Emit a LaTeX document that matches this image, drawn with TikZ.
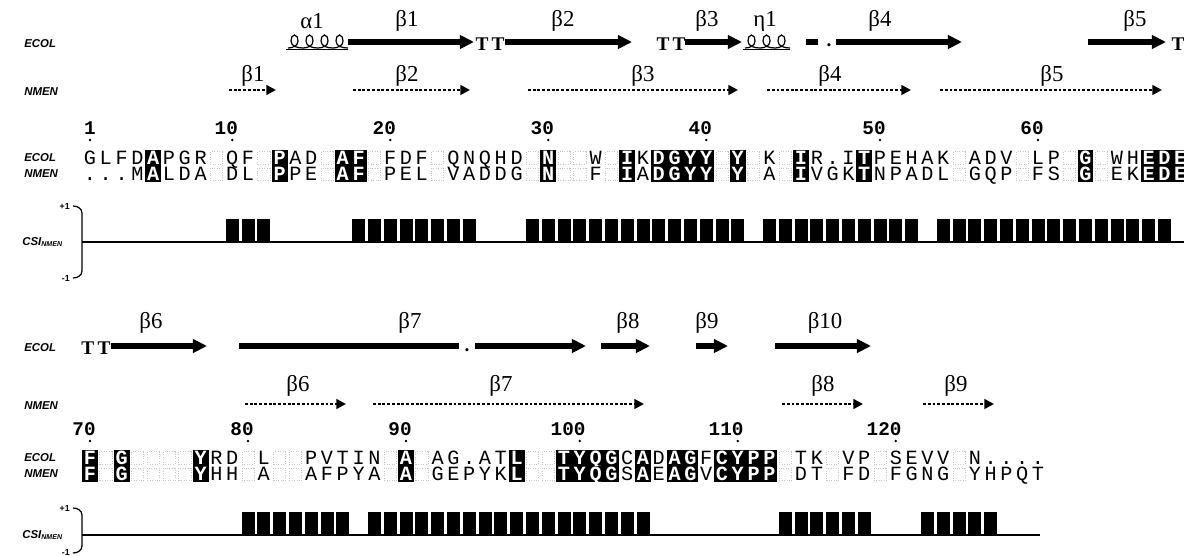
\documentclass[tikz,border=0pt]{standalone}
\usepackage{fontspec}
\setmainfont{Liberation Serif}
\setsansfont{Liberation Sans}
\setmonofont{Liberation Mono}
\usetikzlibrary{arrows.meta}

% helix: start x, baseline y, number of loops
\newcommand{\helixloops}[3]{%
  \foreach \k in {1,...,#3} {
    \pgfmathsetmacro{\hx}{#1+15*(\k-1)}
    \draw[line width=0.7pt] (\hx,#2) to[out=0,in=-90] ++(10,-7)
      to[out=90,in=0] ++(-3.5,-6) to[out=180,in=90] ++(-3.5,6)
      to[out=-90,in=180] ++(12,7);
  }
  \pgfmathsetmacro{\hend}{#1+15*#3}
  \draw[line width=0.5pt] (#1-2,#2+1) -- (\hend,#2+1);
}

\begin{document}
\begin{tikzpicture}[x=0.2mm, y=-0.2mm,
    res/.style={inner sep=0pt, minimum width=3.16mm, minimum height=3.2mm,
                text height=7pt, text depth=0pt,
                font=\ttfamily\fontsize{11.5}{12}\selectfont},
    resn/.style={res},
    resb/.style={res, fill=black, text=white,
                 font=\ttfamily\bfseries\fontsize{11.5}{12}\selectfont},
    resf/.style={res, text=white, minimum width=2.2mm, minimum height=2.5mm,
                 draw=black!22, densely dotted},
    num/.style={inner sep=0pt, font=\ttfamily\bfseries\fontsize{11}{12}\selectfont},
    seqname/.style={inner sep=0pt, anchor=west,
                    font=\sffamily\bfseries\itshape\fontsize{6.5}{7}\selectfont},
    sslab/.style={inner sep=0pt, font=\fontsize{13}{14}\selectfont},
    strand/.style={line width=2.9pt, -{Triangle[length=8pt, width=7.5pt]}},
    bar/.style={line width=2.9pt},
    dstrand/.style={line width=1.5pt, dash pattern=on 1.6pt off 1.1pt,
                    -{Triangle[length=5.5pt, width=5.5pt]}},
    turn/.style={inner sep=0pt, font=\bfseries\fontsize{11}{12}\selectfont},
    csilab/.style={inner sep=0pt, font=\sffamily\bfseries\fontsize{5}{6}\selectfont},
    csibar/.style={fill=black},
]
\useasboundingbox (0,0) rectangle (1184,555);

% ================= block 1 =================
% --- ECOL secondary structure ---
\node[seqname] (sse1) at (24,44) {ECOL};
\node[sslab] (a1) at (312,21) {α1};
\helixloops{288}{48}{4}
\node[sslab] (e1b1) at (407,21) {β1};
\draw[strand] (348,42) -- (474,42);
\node[turn] (tt1) at (490,44) {T\,T};
\node[sslab] (e1b2) at (563,21) {β2};
\draw[strand] (505,42) -- (632,42);
\node[turn] (tt2) at (671,44) {T\,T};
\node[sslab] (e1b3) at (707,21) {β3};
\draw[strand] (685,42) -- (742,42);
\node[sslab] (h1) at (765,21) {η1};
\helixloops{745}{48}{3}
\draw[bar] (806,42) -- (818,42);
\node[turn] (dot1) at (829,45) {.};
\node[sslab] (e1b4) at (880,21) {β4};
\draw[strand] (836,42) -- (962,42);
\node[sslab] (e1b5) at (1135,21) {β5};
\draw[strand] (1088,42) -- (1166,42);
\node[turn] (tt3) at (1178,44) {T};

% --- NMEN secondary structure ---
\node[seqname] (ssn1) at (24,92) {NMEN};
\node[sslab] (n1b1) at (253,76) {β1};
\draw[dstrand] (229,90) -- (276,90);
\node[sslab] (n1b2) at (407,76) {β2};
\draw[dstrand] (353,90) -- (470,90);
\node[sslab] (n1b3) at (643,76) {β3};
\draw[dstrand] (528,90) -- (738,90);
\node[sslab] (n1b4) at (830,76) {β4};
\draw[dstrand] (767,90) -- (911,90);
\node[sslab] (n1b5) at (1052,76) {β5};
\draw[dstrand] (940,90) -- (1162,90);

% --- numbering ---
\foreach \n/\c in {1/0,10/9,20/19,30/29,40/39,50/50,60/60} {
  \node[num, anchor=base east] (num1-\n) at ({90+15.8*\c+6},134) {\n};
  \fill ({90+15.8*\c},140) circle (1.4);
}

% --- sequences ---
\node[seqname] (seqe1) at (24,158) {ECOL};
\node[seqname] (seqn1) at (24,174) {NMEN};
\foreach \r/\t [count=\i from 0] in {G/n,L/n,F/n,D/n,A/b,P/n,G/n,R/n,x/f,Q/n,
    F/n,x/f,P/b,A/n,D/n,x/f,A/b,F/b,x/f,F/n,D/n,F/n,x/f,Q/n,N/n,Q/n,H/n,D/n,
    x/f,N/b,x/f,x/f,W/n,x/f,I/b,K/n,D/b,G/b,Y/b,Y/b,x/f,Y/b,x/f,K/n,x/f,I/b,
    R/n,./n,I/n,T/b,P/n,E/n,H/n,A/n,K/n,x/f,A/n,D/n,V/n,x/f,L/n,P/n,x/f,G/b,
    x/f,W/n,H/n,E/b,D/b,E/b}
  \node[res\t] (e1-\i) at ({90+15.8*\i},158) {\r};
\foreach \r/\t [count=\i from 0] in {./n,./n,./n,M/n,A/b,L/n,D/n,A/n,x/f,D/n,
    L/n,x/f,P/b,P/n,E/n,x/f,A/b,F/b,x/f,P/n,E/n,L/n,x/f,V/n,A/n,D/n,D/n,G/n,
    x/f,N/b,x/f,x/f,F/n,x/f,I/b,A/n,D/b,G/b,Y/b,Y/b,x/f,Y/b,x/f,A/n,x/f,I/b,
    V/n,G/n,K/n,T/b,N/n,P/n,A/n,D/n,L/n,x/f,G/n,Q/n,P/n,x/f,F/n,S/n,x/f,G/b,
    x/f,E/n,K/n,E/b,D/b,E/b}
  \node[res\t] (n1-\i) at ({90+15.8*\i},174.2) {\r};

% --- CSI ---
\node[csilab, anchor=east] (p1) at (70,206) {+1};
\node[csilab, anchor=east] (m1) at (70,278) {-1};
\node[seqname] (csi1) at (22,242) {CSI\textsubscript{\fontsize{4}{4}\selectfont NMEN}};
\draw[line width=0.7pt] (73,206) to[out=0,in=90] (82,213) -- (82,271)
    to[out=-90,in=0] (73,278);
\draw[line width=0.9pt] (82,242) -- (1184,242);
\foreach \a/\b in {9/11,17/24,28/41,43/52,54/68}
  \foreach \c in {\a,...,\b}
    \fill[csibar] ({90+15.8*\c-6.5},219) rectangle ({90+15.8*\c+6.5},242);

% ================= block 2 =================
% --- ECOL secondary structure ---
\node[seqname] (sse2) at (24,348) {ECOL};
\node[turn] (tt4) at (96,348) {T\,T};
\node[sslab] (e2b6) at (151,323) {β6};
\draw[strand] (111,346) -- (207,346);
\node[sslab] (e2b7) at (410,323) {β7};
\draw[line width=2.9pt] (239,346) -- (459,346);
\node[turn] (dot2) at (467,350) {.};
\draw[strand] (475,346) -- (586,346);
\node[sslab] (e2b8) at (628,323) {β8};
\draw[strand] (601,346) -- (650,346);
\node[sslab] (e2b9) at (707,323) {β9};
\draw[strand] (696,346) -- (728,346);
\node[sslab] (e2b10) at (825,323) {β10};
\draw[strand] (775,346) -- (871,346);

% --- NMEN secondary structure ---
\node[seqname] (ssn2) at (24,406) {NMEN};
\node[sslab] (n2b6) at (298,386) {β6};
\draw[dstrand] (245,404) -- (346,404);
\node[sslab] (n2b7) at (501,386) {β7};
\draw[dstrand] (373,404) -- (644,404);
\node[sslab] (n2b8) at (823,386) {β8};
\draw[dstrand] (782,404) -- (863,404);
\node[sslab] (n2b9) at (956,386) {β9};
\draw[dstrand] (923,404) -- (994,404);

% --- numbering ---
\foreach \n/\c in {70/0,80/10,90/20,100/31,110/41,120/51} {
  \node[num, anchor=base east] (num2-\n) at ({90+15.8*\c+6},435) {\n};
  \fill ({90+15.8*\c},441) circle (1.4);
}

% --- sequences ---
\node[seqname] (seqe2) at (24,458) {ECOL};
\node[seqname] (seqn2) at (24,474) {NMEN};
\foreach \r/\t [count=\i from 0] in {F/b,x/f,G/b,x/f,x/f,x/f,x/f,Y/b,R/n,D/n,
    x/f,L/n,x/f,x/f,P/n,V/n,T/n,I/n,N/n,x/f,A/b,x/f,A/n,G/n,./n,A/n,T/n,L/b,
    x/f,x/f,T/b,Y/b,Q/b,G/b,C/n,A/b,D/n,A/b,G/b,F/n,C/b,Y/b,P/b,P/b,x/f,T/n,
    K/n,x/f,V/n,P/n,x/f,S/n,E/n,V/n,V/n,x/f,N/n,./n,./n,./n,./n}
  \node[res\t] (e2-\i) at ({90+15.8*\i},458) {\r};
\foreach \r/\t [count=\i from 0] in {F/b,x/f,G/b,x/f,x/f,x/f,x/f,Y/b,H/n,H/n,
    x/f,A/n,x/f,x/f,A/n,F/n,P/n,Y/n,A/n,x/f,A/b,x/f,G/n,E/n,P/n,Y/n,K/n,L/b,
    x/f,x/f,T/b,Y/b,Q/b,G/b,S/n,A/b,E/n,A/b,G/b,V/n,C/b,Y/b,P/b,P/b,x/f,D/n,
    T/n,x/f,F/n,D/n,x/f,F/n,G/n,N/n,G/n,x/f,Y/n,H/n,P/n,Q/n,T/n}
  \node[res\t] (n2-\i) at ({90+15.8*\i},474.2) {\r};

% --- CSI ---
\node[csilab, anchor=east] (p2) at (70,508) {+1};
\node[csilab, anchor=east] (m2) at (70,552) {-1};
\node[seqname] (csi2) at (22,535) {CSI\textsubscript{\fontsize{4}{4}\selectfont NMEN}};
\draw[line width=0.7pt] (73,508) to[out=0,in=90] (82,515) -- (82,546)
    to[out=-90,in=0] (73,553);
\draw[line width=0.9pt] (82,535) -- (1040,535);
\foreach \a/\b in {10/16,18/35,44/49,53/57}
  \foreach \c in {\a,...,\b}
    \fill[csibar] ({90+15.8*\c-6.5},512) rectangle ({90+15.8*\c+6.5},535);
\end{tikzpicture}
\end{document}
